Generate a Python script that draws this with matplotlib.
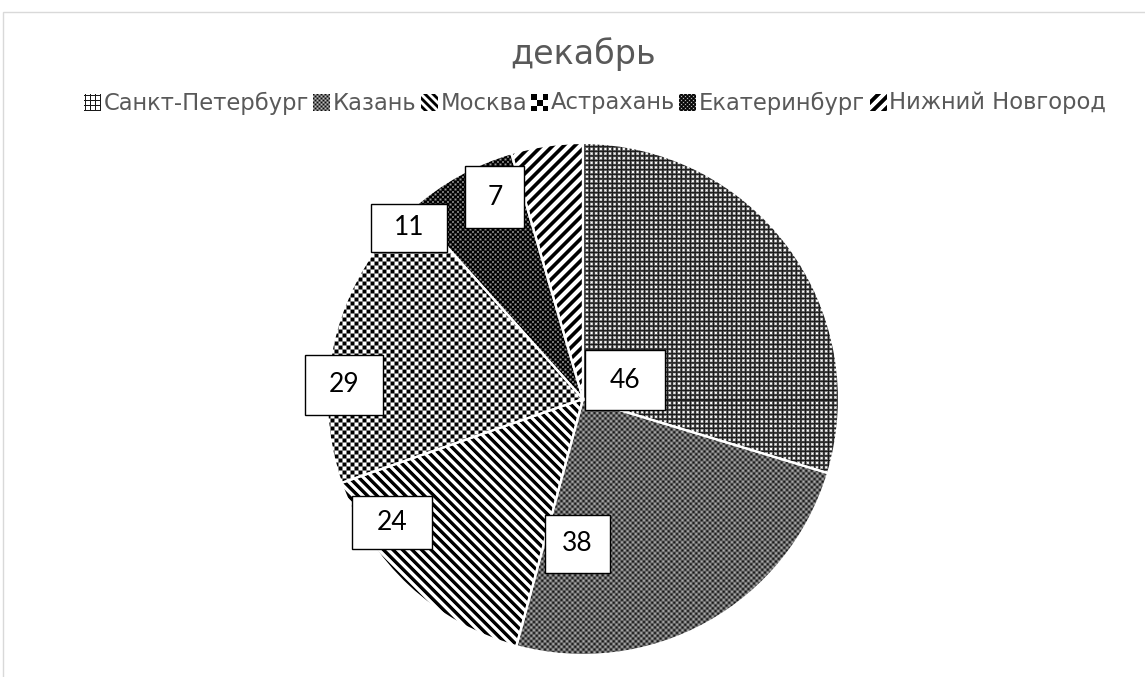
import numpy as np
import matplotlib
matplotlib.use('Agg')
import matplotlib.pyplot as plt
from matplotlib.colors import Normalize
from matplotlib.patches import Rectangle
from matplotlib.offsetbox import OffsetImage, TextArea, HPacker, AnchoredOffsetbox

# December figures by city
cities = ['Санкт-Петербург', 'Казань', 'Москва', 'Астрахань', 'Екатеринбург', 'Нижний Новгород']
values = [46, 38, 24, 29, 11, 7]

# where the value boxes sit (pie units) and their sizes
label_pos = [(0.164, 0.074), (-0.023, -0.566), (-0.746, -0.484),
             (-0.934, 0.055), (-0.680, 0.668), (-0.344, 0.789)]
label_box = [(0.3125, 0.234), (0.254, 0.227), (0.3125, 0.207),
             (0.305, 0.234), (0.297, 0.184), (0.23, 0.242)]

GRAY_TXT = '#595959'
W, H, DPI = 1145, 677, 100
CX, CY, R = 583, 399, 256   # pie centre / radius in pixels


def cc(X, Y, p):
    return np.cos(2 * np.pi * X / p) * np.cos(2 * np.pi * Y / p)


# black & white fill patterns, value 0 = black, 1 = white
def pat_grid(X, Y):
    line = np.maximum(np.cos(2 * np.pi * X / 4.6), np.cos(2 * np.pi * Y / 4.6))
    return np.clip(0.6 - 0.5 * line, 0, 1)

def pat_fine(X, Y):
    return np.clip(0.38 - 0.3 * cc(X, Y, 5.5), 0, 1)

def pat_back(X, Y):
    return np.clip(0.5 + 1.2 * np.cos(2 * np.pi * (X - Y) / 9.5), 0, 1)

def pat_check(X, Y):
    return np.clip(0.5 - 2.5 * cc(X, Y, 8.0), 0, 1)

def pat_dots(X, Y):
    return np.clip(0.12 + 0.5 * cc(X, Y, 5.0), 0, 1)

def pat_fwd(X, Y):
    return np.clip(0.6 + 1.2 * np.cos(2 * np.pi * (X + Y) / 11.0), 0, 1)

patterns = [pat_grid, pat_fine, pat_back, pat_check, pat_dots, pat_fwd]


# small legend swatches (17x17)
def icon(k, n=17):
    j, i = np.mgrid[0:n, 0:n].astype(float)
    if k == 0:
        g = np.ones((n, n))
        for p in (1, 6, 11, 16):
            g[:, p] = 0.1
            g[p, :] = 0.1
        return g
    if k == 1:
        return np.clip(0.4 - 0.35 * cc(i, j, 4.0), 0, 1)
    if k == 2:
        return np.clip(0.5 + 1.5 * np.cos(2 * np.pi * (i - j) / 8.0), 0, 1)
    if k == 3:
        return np.where(((i * 3 // n) + (j * 3 // n)) % 2 == 0, 0.0, 1.0)
    if k == 4:
        return np.clip(0.1 + 0.6 * cc(i, j, 4.0), 0, 1)
    return np.clip(0.5 + 1.5 * np.cos(2 * np.pi * (i + j - 2) / 11.0), 0, 1)


fig = plt.figure(figsize=(W / DPI, H / DPI), dpi=DPI)
fig.patch.set_facecolor('white')

ax = fig.add_axes([(CX - R) / W, (H - CY - R) / H, 2 * R / W, 2 * R / H])

wedges, _ = ax.pie(values, startangle=90, counterclock=False, radius=1,
                   wedgeprops=dict(facecolor='none', edgecolor='white',
                                   linewidth=1.6, zorder=3))

# pixel grid covering the pie axes
rows, cols = np.mgrid[0:2 * R, 0:2 * R].astype(float)
X = cols + CX - R
Y = rows + CY - R
norm = Normalize(0, 1)
for w, fn in zip(wedges, patterns):
    im = ax.imshow(fn(X, Y), cmap='gray', norm=norm, extent=(-1, 1, -1, 1),
                   interpolation='nearest', zorder=1)
    im.set_clip_path(w)

ax.set_xlim(-1, 1)
ax.set_ylim(-1, 1)
ax.set_aspect('auto')
ax.axis('off')

# value boxes
for v, (x, y), (bw, bh) in zip(values, label_pos, label_box):
    ax.add_patch(Rectangle((x - bw / 2, y - bh / 2), bw, bh, facecolor='white',
                           edgecolor='black', linewidth=1.0, zorder=5, clip_on=False))
    ax.text(x, y, str(v), ha='center', va='center', fontsize=19,
            family='Lato', color='black', zorder=6, clip_on=False)

# title
fig.text(CX / W, 1 - 54 / H, 'декабрь', ha='center', va='center',
         fontsize=24, color=GRAY_TXT, family='DejaVu Sans')

# legend row
items = []
for k, name in enumerate(cities):
    img = OffsetImage(icon(k), cmap='gray', norm=norm, zoom=0.72,
                      interpolation='nearest')
    txt = TextArea(name, textprops=dict(color=GRAY_TXT, fontsize=16.3,
                                        family='DejaVu Sans'))
    items.append(HPacker(children=[img, txt], sep=2, align='center', pad=0))
row = HPacker(children=items, sep=3, align='center', pad=0)
leg = AnchoredOffsetbox(loc='center', child=row, pad=0, borderpad=0, frameon=False,
                        bbox_to_anchor=(595 / W, 1 - 103 / H),
                        bbox_transform=fig.transFigure)
fig.add_artist(leg)

# chart area border
fig.add_artist(Rectangle((3 / W, -0.1), 1.2, 1.1 - 12 / H, transform=fig.transFigure,
                         fill=False, edgecolor='#d9d9d9', linewidth=1.0))

fig.savefig('out.png', dpi=DPI)
